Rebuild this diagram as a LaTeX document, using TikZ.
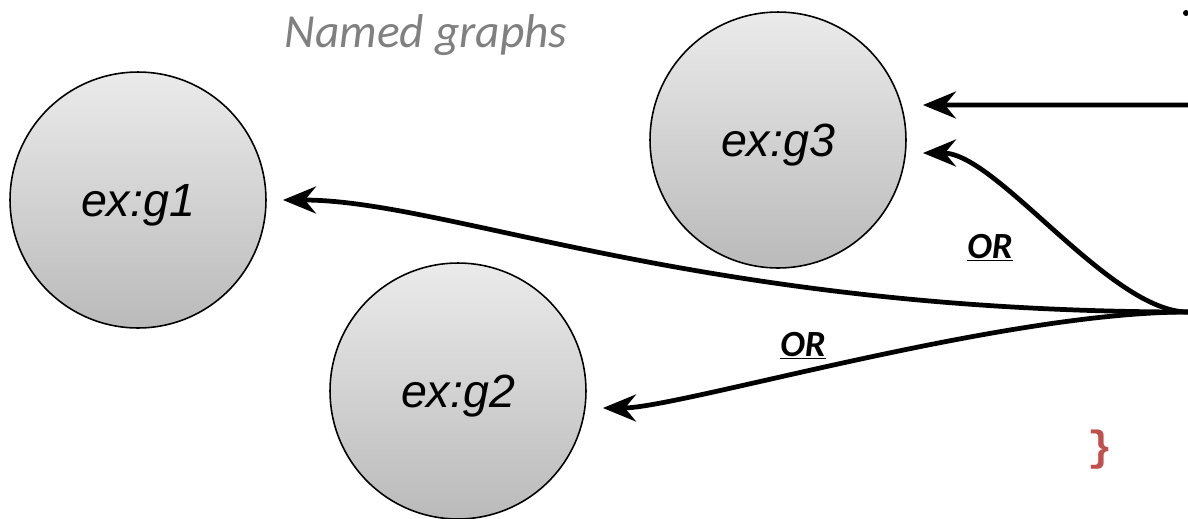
\documentclass[tikz,border=0pt]{standalone}
\usepackage{fontspec}
\setmainfont{Liberation Sans}
\newfontfamily\calibri{Carlito}
\newfontfamily\monofont{Liberation Mono}
\usetikzlibrary{arrows.meta}
\definecolor{braceRed}{HTML}{C0504D}
\begin{document}
\begin{tikzpicture}[x=0.02cm,y=-0.02cm,
  ngraph/.style={circle,draw,line width=0.9pt,minimum size=5.12cm,outer sep=0.34cm,text depth=0pt,
    top color=black!8,bottom color=black!27,font=\fontsize{26.5}{31}\selectfont\itshape},
  link/.style={line width=0.095cm,-{Stealth[length=0.66cm,width=0.54cm,inset=0.22cm]}},
  orlabel/.style={anchor=base,font=\calibri\fontsize{21}{24}\selectfont\bfseries\itshape}]
\useasboundingbox (0,0) rectangle (1188,518);
\node[anchor=base,text=gray,font=\calibri\fontsize{27}{32}\selectfont\itshape] (title) at (426,47) {Named graphs};
\node[ngraph] (g1) at (138,200) {ex:g1};
\node[ngraph] (g3) at (778,140) {ex:g3};
\node[ngraph] (g2) at (458,391) {ex:g2};
\coordinate (S1) at (1188,105);
\coordinate (S2) at (1188,312);
\draw[link] (S1) -- ([yshift=0.7cm]g3.east);
\draw[link] (S2) .. controls +(-78,0) and +(74,0) .. ([yshift=-0.26cm]g3.east);
\draw[link] (S2) .. controls +(-488,0) and +(165,0) .. (g1.east);
\draw[link] (S2) .. controls +(-188,0) and +(77,0) .. ([yshift=-0.34cm]g2.east);
\node[orlabel] (or1) at (990,258) {\underline{OR}};
\node[orlabel] (or2) at (803,356) {\underline{OR}};
\node[text=braceRed,font=\monofont\bfseries\fontsize{24}{28}\selectfont] (brace) at (1100,450) {\}};
\fill (1186,13) circle (0.06cm);
\end{tikzpicture}
\end{document}
